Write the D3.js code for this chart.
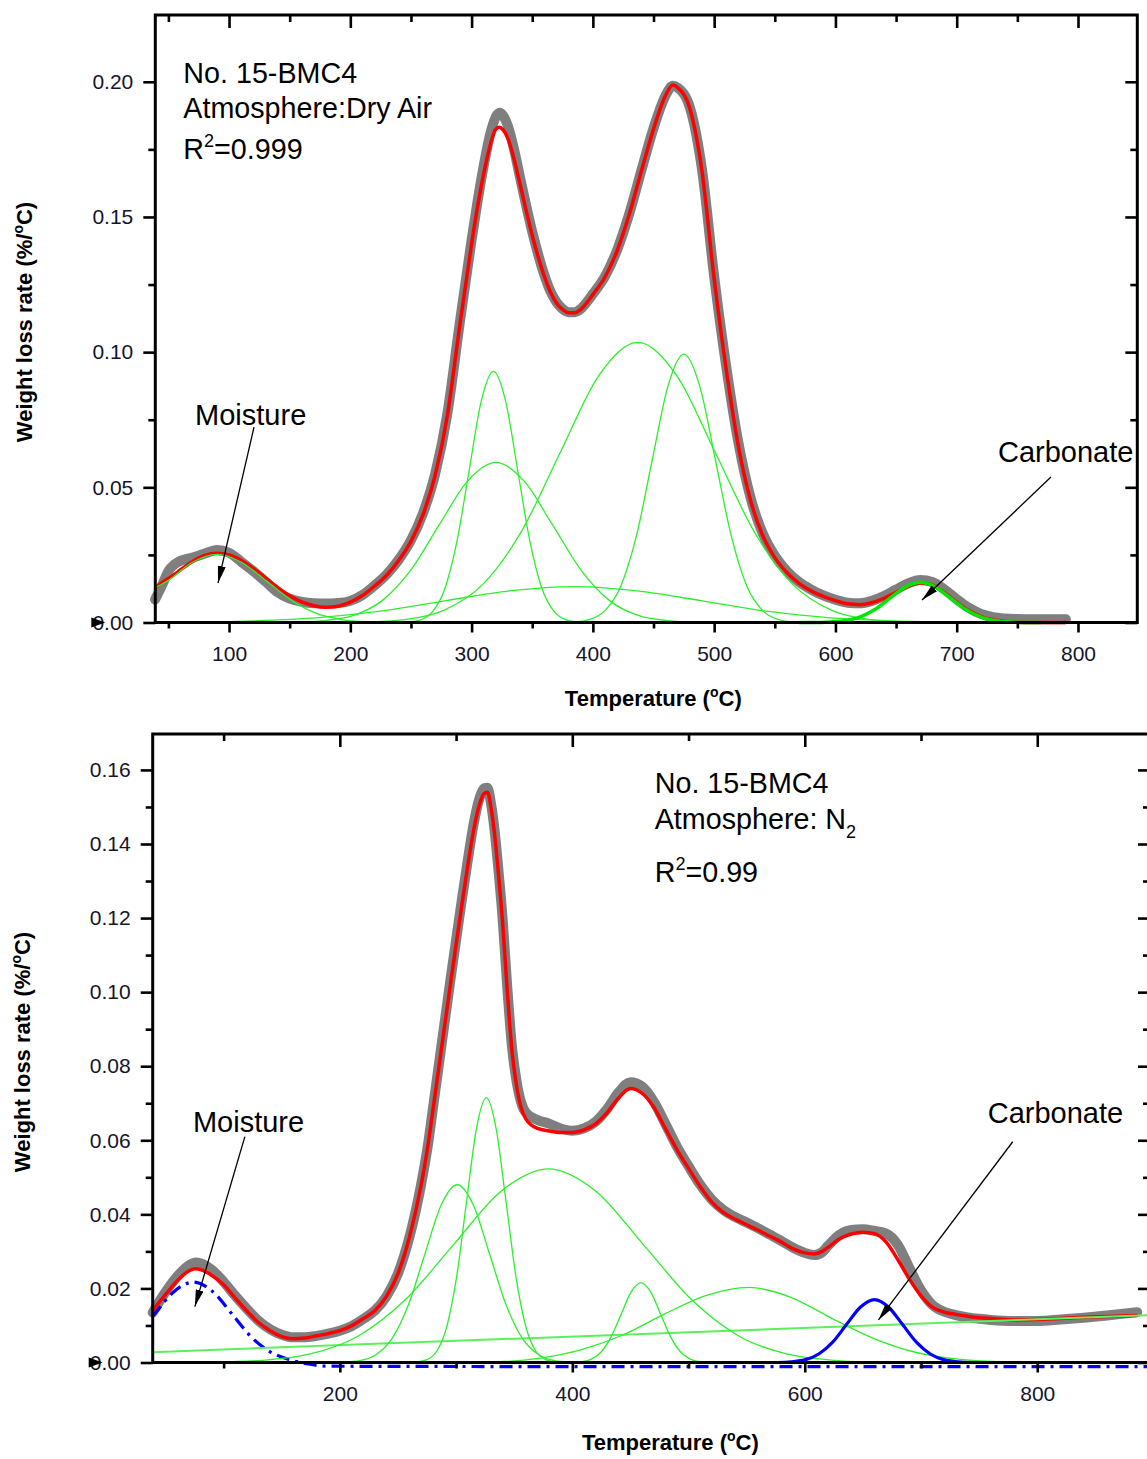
<!DOCTYPE html>
<html>
<head>
<meta charset="utf-8">
<script src="https://cdn.jsdelivr.net/npm/d3@7"></script>
<style>
  body { margin: 0; background: #fff; }
  text { font-family: "Liberation Sans", Arial, sans-serif; }
</style>
</head>
<body>
<svg id="chart" width="1147" height="1459"></svg>
<script>
// ---------- panel 1 : dry air ----------
const airTicksX = [100, 200, 300, 400, 500, 600, 700, 800]
const airMinorX = [50, 150, 250, 350, 450, 550, 650, 750]
const airTicksY = [0, 0.05, 0.1, 0.15, 0.2]
const airMinorY = [0.025, 0.075, 0.125, 0.175]

// measured DTG (grey) and fitted sum (red), [temperature, rate]
const airMeasured = [[39,0.0085],[45,0.0140],[50,0.0190],[55,0.0215],[60,0.0228],[70,0.0240],[80,0.0255],[90,0.0268],[100,0.0258],[110,0.0225],[120,0.0190],[130,0.0152],[140,0.0112],[150,0.0088],[160,0.0076],[170,0.0071],[180,0.0070],[190,0.0072],[200,0.0080],[210,0.0102],[220,0.0137],[230,0.0178],[240,0.0233],[250,0.0304],[260,0.0405],[270,0.0550],[280,0.0772],[290,0.1100],[300,0.1415],[305,0.1560],[310,0.1690],[315,0.1800],[320,0.1870],[323,0.1885],[326,0.1875],[330,0.1835],[335,0.1750],[340,0.1645],[350,0.1445],[360,0.1285],[365,0.1225],[370,0.1185],[375,0.1160],[380,0.1148],[385,0.1148],[390,0.1160],[395,0.1185],[400,0.1215],[410,0.1280],[420,0.1378],[430,0.1512],[440,0.1672],[450,0.1828],[460,0.1950],[466,0.1985],[470,0.1978],[480,0.1905],[490,0.1675],[500,0.1280],[510,0.0945],[520,0.0665],[530,0.0462],[540,0.0330],[550,0.0247],[560,0.0190],[570,0.0150],[580,0.0122],[590,0.0100],[600,0.0084],[610,0.0073],[620,0.0071],[630,0.0080],[640,0.0098],[650,0.0122],[660,0.0145],[670,0.0157],[680,0.0150],[690,0.0122],[700,0.0086],[710,0.0054],[720,0.0032],[730,0.0020],[740,0.0015],[750,0.0013],[760,0.0012],[770,0.0012],[780,0.0012],[790,0.0012]]
const airFit = [[39,0.0129],[45,0.0148],[50,0.0163],[55,0.0178],[60,0.0195],[70,0.0226],[80,0.0248],[90,0.0256],[100,0.0250],[110,0.0230],[120,0.0200],[130,0.0165],[140,0.0130],[150,0.0099],[160,0.0076],[170,0.0062],[180,0.0056],[190,0.0060],[200,0.0075],[210,0.0100],[220,0.0135],[230,0.0175],[240,0.0230],[250,0.0300],[260,0.0400],[270,0.0545],[280,0.0765],[290,0.1090],[300,0.1400],[305,0.1540],[310,0.1660],[315,0.1760],[320,0.1825],[323,0.1832],[326,0.1822],[330,0.1790],[335,0.1715],[340,0.1620],[350,0.1432],[360,0.1280],[365,0.1222],[370,0.1182],[375,0.1158],[380,0.1146],[385,0.1146],[390,0.1158],[395,0.1183],[400,0.1213],[410,0.1278],[420,0.1375],[430,0.1510],[440,0.1670],[450,0.1825],[460,0.1950],[466,0.1988],[470,0.1978],[480,0.1900],[490,0.1668],[500,0.1272],[510,0.0935],[520,0.0652],[530,0.0452],[540,0.0322],[550,0.0240],[560,0.0185],[570,0.0145],[580,0.0117],[590,0.0097],[600,0.0081],[610,0.0069],[620,0.0066],[630,0.0073],[640,0.0089],[650,0.0112],[660,0.0134],[670,0.0146],[680,0.0138],[690,0.0110],[700,0.0075],[710,0.0044],[720,0.0022],[730,0.0010],[740,0.0004],[750,0.0001],[760,0],[790,0]]

// deconvoluted peaks (green)
const airMoisture = [[39,0.0128],[49,0.0153],[69.5,0.0222],[90,0.0252],[110.5,0.0222],[131,0.0153],[151.5,0.0082],[172,0.0034],[192.5,0.0011],[213,0.0003],[233.5,0.0001],[254,0]]
const airPeak318 = [[238,0],[248,0.0002],[258,0.0010],[268,0.0041],[278,0.0126],[288,0.0302],[298,0.0563],[308,0.0820],[318,0.0929],[328,0.0820],[338,0.0563],[348,0.0302],[358,0.0126],[368,0.0041],[378,0.0010],[388,0.0002],[398,0]]
const airPeak320 = [[132,0],[155.5,0.0001],[179,0.0007],[202.5,0.0026],[226,0.0080],[249.5,0.0192],[273,0.0359],[296.5,0.0522],[320,0.0592],[343.5,0.0522],[367,0.0359],[390.5,0.0192],[414,0.0080],[437.5,0.0026],[461,0.0007],[484.5,0.0001],[508,0]]
const airPeak437 = [[181,0],[213,0.0002],[245,0.0011],[277,0.0045],[309,0.0140],[341,0.0336],[373,0.0628],[405,0.0914],[437,0.1036],[469,0.0914],[501,0.0628],[533,0.0336],[565,0.0140],[597,0.0045],[629,0.0011],[661,0.0002],[693,0]]
const airPeak475 = [[371,0],[384,0.0002],[397,0.0011],[410,0.0044],[423,0.0134],[436,0.0322],[449,0.0602],[462,0.0876],[475,0.0993],[488,0.0876],[501,0.0602],[514,0.0322],[527,0.0134],[540,0.0044],[553,0.0011],[566,0.0002],[579,0]]
const airPeakBroad = [[39,0.0001],[69,0.0001],[121.5,0.0006],[174,0.0018],[226.5,0.0043],[279,0.0081],[331.5,0.0117],[384,0.0133],[436.5,0.0117],[489,0.0081],[541.5,0.0043],[594,0.0018],[646.5,0.0006],[699,0.0001],[751.5,0]]
const airCarbonate = [[570,0],[582.5,0],[595,0.0002],[607.5,0.0007],[620,0.0020],[632.5,0.0048],[645,0.0090],[657.5,0.0131],[670,0.0149],[682.5,0.0131],[695,0.0090],[707.5,0.0048],[720,0.0020],[732.5,0.0007],[745,0.0002],[757.5,0],[770,0]]

// ---------- panel 2 : nitrogen ----------
const n2TicksX = [200, 400, 600, 800]
const n2MinorX = [100, 300, 500, 700]
const n2TicksY = [0, 0.02, 0.04, 0.06, 0.08, 0.1, 0.12, 0.14, 0.16]
const n2MinorY = [0.01, 0.03, 0.05, 0.07, 0.09, 0.11, 0.13, 0.15]

const n2Measured = [[39,0.0135],[50,0.0190],[60,0.0232],[70,0.0262],[76,0.0270],[80,0.0268],[90,0.0250],[100,0.0218],[110,0.0180],[120,0.0145],[130,0.0113],[140,0.0090],[150,0.0075],[160,0.0068],[170,0.0068],[180,0.0072],[190,0.0078],[200,0.0086],[210,0.0098],[220,0.0117],[230,0.0140],[240,0.0178],[250,0.0240],[260,0.0340],[270,0.0482],[276,0.0592],[280,0.0684],[285,0.0800],[290,0.0915],[295,0.1030],[300,0.1140],[305,0.1250],[310,0.1355],[315,0.1452],[320,0.1522],[324,0.1550],[327,0.1552],[330,0.1510],[333,0.1440],[336,0.1345],[340,0.1200],[344,0.1015],[348,0.0855],[352,0.0760],[356,0.0702],[360,0.0675],[370,0.0655],[380,0.0645],[390,0.0632],[400,0.0626],[410,0.0632],[420,0.0650],[430,0.0685],[440,0.0730],[450,0.0757],[460,0.0745],[470,0.0705],[480,0.0645],[490,0.0583],[500,0.0530],[510,0.0480],[520,0.0440],[530,0.0412],[540,0.0393],[550,0.0378],[560,0.0362],[570,0.0345],[580,0.0328],[590,0.0310],[600,0.0296],[608,0.0290],[615,0.0298],[620,0.0315],[630,0.0345],[640,0.0358],[650,0.0360],[660,0.0355],[670,0.0348],[680,0.0318],[690,0.0255],[700,0.0195],[710,0.0155],[720,0.0137],[730,0.0128],[740,0.0122],[750,0.0118],[760,0.0115],[780,0.0112],[800,0.0112],[820,0.0116],[840,0.0121],[860,0.0127],[886,0.0136]]
const n2Fit = [[39,0.0140],[50,0.0183],[60,0.0220],[70,0.0247],[76,0.0253],[80,0.0251],[90,0.0235],[100,0.0210],[110,0.0174],[120,0.0139],[130,0.0108],[140,0.0086],[150,0.0070],[160,0.0064],[170,0.0066],[180,0.0072],[190,0.0078],[200,0.0086],[210,0.0099],[220,0.0118],[230,0.0140],[240,0.0178],[250,0.0240],[260,0.0340],[270,0.0480],[276,0.0590],[280,0.0680],[285,0.0792],[290,0.0905],[295,0.1018],[300,0.1128],[305,0.1236],[310,0.1340],[315,0.1435],[320,0.1505],[324,0.1536],[327,0.1540],[330,0.1500],[333,0.1430],[336,0.1335],[340,0.1190],[344,0.1005],[348,0.0845],[352,0.0748],[356,0.0688],[360,0.0658],[370,0.0632],[380,0.0625],[390,0.0621],[400,0.0621],[410,0.0628],[420,0.0644],[430,0.0675],[440,0.0715],[450,0.0740],[460,0.0727],[470,0.0690],[480,0.0632],[490,0.0575],[500,0.0524],[510,0.0475],[520,0.0433],[530,0.0405],[540,0.0387],[550,0.0372],[560,0.0357],[570,0.0341],[580,0.0325],[590,0.0307],[600,0.0296],[608,0.0293],[615,0.0300],[620,0.0311],[630,0.0334],[640,0.0347],[650,0.0352],[660,0.0348],[670,0.0325],[680,0.0278],[690,0.0225],[700,0.0180],[710,0.0149],[720,0.0136],[730,0.0130],[740,0.0125],[750,0.0121],[760,0.0119],[780,0.0115],[800,0.0116],[820,0.0119],[840,0.0122],[860,0.0124],[886,0.0127]]

// blue moisture peak: its tail runs just under the zero line
const n2Moisture = [[39,0.0124],[41,0.0132],[57.5,0.0192],[74,0.0217],[90.5,0.0192],[107,0.0132],[123.5,0.0070],[140,0.0029],[156.5,0.0008],[173,-0.0004],[189.5,-0.0010],[400,-0.0011],[897,-0.0011]]
const n2Peak301 = [[189,0],[203,0.0001],[217,0.0005],[231,0.0021],[245,0.0065],[259,0.0156],[273,0.0291],[287,0.0424],[301,0.0480],[315,0.0424],[329,0.0291],[343,0.0156],[357,0.0065],[371,0.0021],[385,0.0005],[399,0.0001],[413,0]]
const n2Peak326 = [[258,0],[266.5,0.0002],[275,0.0008],[283.5,0.0031],[292,0.0097],[300.5,0.0232],[309,0.0434],[317.5,0.0631],[326,0.0715],[334.5,0.0631],[343,0.0434],[351.5,0.0232],[360,0.0097],[368.5,0.0031],[377,0.0008],[385.5,0.0002],[394,0]]
const n2Peak380 = [[51.5,0],[92.5,0.0001],[133.5,0.0006],[174.5,0.0023],[215.5,0.0071],[256.5,0.0170],[297.5,0.0317],[338.5,0.0462],[379.5,0.0523],[420.5,0.0462],[461.5,0.0317],[502.5,0.0170],[543.5,0.0071],[584.5,0.0023],[625.5,0.0006],[666.5,0.0001],[707.5,0]]
const n2Peak459 = [[391,0],[399.5,0],[408,0.0002],[416.5,0.0009],[425,0.0029],[433.5,0.0070],[442,0.0130],[450.5,0.0190],[459,0.0215],[467.5,0.0190],[476,0.0130],[484.5,0.0070],[493,0.0029],[501.5,0.0009],[510,0.0002],[518.5,0],[527,0]]
const n2Peak552 = [[300,0],[336,0.0002],[372,0.0012],[408,0.0035],[444,0.0075],[480,0.0132],[516,0.0182],[552,0.0203],[588,0.0176],[624,0.0118],[660,0.0064],[696,0.0027],[732,0.0009],[768,0.0002],[804,0]]
const n2Baseline = [[39,0.0028],[897,0.0128]]
const n2Carbonate = [[576,0],[588,0.0002],[600,0.0007],[612,0.0023],[624,0.0055],[636,0.0103],[648,0.0150],[660,0.0170],[672,0.0150],[684,0.0103],[696,0.0055],[708,0.0023],[720,0.0007],[732,0.0002],[744,0]]

const GREEN = '#2bef2b'
const FONT = '"Liberation Sans", Arial, sans-serif'
const svg = d3.select('#chart')

svg.append('defs').append('marker')
  .attr('id', 'arrow')
  .attr('markerUnits', 'userSpaceOnUse')
  .attr('markerWidth', 18).attr('markerHeight', 10)
  .attr('refX', 17).attr('refY', 4)
  .attr('orient', 'auto')
  .append('path').attr('d', 'M0,0 L17,4 L0,8 Z').attr('fill', '#000')

function drawPanel(p) {
  const g = svg.append('g')
  const x = d3.scaleLinear().domain(p.xDomain).range([p.left, p.right])
  const y = d3.scaleLinear().domain(p.yDomain).range([p.bottom, p.top])
  const line = d3.line()
    .x((d) => x(d[0]))
    .y((d) => y(d[1]))
    .curve(d3.curveMonotoneX)

  const curves = g.append('g').attr('fill', 'none')
  p.series.forEach((s) => {
    curves.append('path')
      .attr('d', line(s.data))
      .attr('stroke', s.color)
      .attr('stroke-width', s.width)
      .attr('stroke-dasharray', s.dash || null)
      .attr('stroke-linecap', s.cap || 'butt')
      .attr('stroke-linejoin', 'round')
  })

  // axes: ticks only, frame drawn separately
  const axes = [
    [d3.axisBottom(x).tickValues(p.xMajor).tickSize(10).tickPadding(14).tickFormat(d3.format('d')), p.bottom],
    [d3.axisBottom(x).tickValues(p.xMinor).tickSize(6).tickFormat(''), p.bottom],
    [d3.axisTop(x).tickValues(p.xMajor).tickSize(-13).tickFormat(''), p.top],
    [d3.axisTop(x).tickValues(p.xMinor).tickSize(-7).tickFormat(''), p.top],
  ]
  axes.forEach(([ax, pos]) => {
    g.append('g').attr('transform', `translate(0,${pos})`).call(ax)
  })
  const yAxes = [
    [d3.axisLeft(y).tickValues(p.yMajor).tickSize(12).tickPadding(10).tickFormat(d3.format('.2f')), p.left],
    [d3.axisLeft(y).tickValues(p.yMinor).tickSize(7).tickFormat(''), p.left],
    [d3.axisRight(y).tickValues(p.yMajor).tickSize(-12).tickFormat(''), p.right],
    [d3.axisRight(y).tickValues(p.yMinor).tickSize(-7).tickFormat(''), p.right],
  ]
  yAxes.forEach(([ax, pos]) => {
    g.append('g').attr('transform', `translate(${pos},0)`).call(ax)
  })
  g.selectAll('.domain').remove()
  g.selectAll('.tick line').attr('stroke', '#000').attr('stroke-width', 2.6)
  g.selectAll('.tick text')
    .attr('font-size', 21)
    .attr('font-family', FONT)
    .attr('fill', '#14142a')

  g.append('rect')
    .attr('x', p.left).attr('y', p.top)
    .attr('width', p.right - p.left).attr('height', p.bottom - p.top)
    .attr('fill', 'none').attr('stroke', '#000').attr('stroke-width', 3)

  // stray arrow head sitting on the 0.00 label
  g.append('path')
    .attr('d', `M${p.left - 64},${y(0) - 5} L${p.left - 50},${y(0)} L${p.left - 64},${y(0) + 5} Z`)
    .attr('fill', '#000')

  // axis titles
  const xt = g.append('text')
    .attr('x', (p.left + p.right) / 2 + p.xTitleShift).attr('y', p.xTitleY)
    .attr('text-anchor', 'middle').attr('font-size', 22).attr('font-weight', 'bold')
  xt.append('tspan').text('Temperature (')
  xt.append('tspan').attr('font-size', 14).attr('dy', -9).text('o')
  xt.append('tspan').attr('dy', 9).text('C)')

  const yt = g.append('text')
    .attr('transform', `translate(${p.yTitleX},${p.yTitleY}) rotate(-90)`)
    .attr('text-anchor', 'middle').attr('font-size', 22).attr('font-weight', 'bold')
  yt.append('tspan').text('Weight loss rate (%/')
  yt.append('tspan').attr('font-size', 14).attr('dy', -9).text('o')
  yt.append('tspan').attr('dy', 9).text('C)')

  // sample info block
  const info = g.append('g').attr('font-size', 28.7).attr('fill', '#000')
  info.append('text').attr('x', x(p.info.t)).attr('y', y(p.info.v[0])).text('No. 15-BMC4')
  const atm = info.append('text').attr('x', x(p.info.t)).attr('y', y(p.info.v[1]))
  atm.append('tspan').text(p.info.atm)
  if (p.info.sub) atm.append('tspan').attr('font-size', 18).attr('dy', 9).text(p.info.sub)
  const r2 = info.append('text').attr('x', x(p.info.t)).attr('y', y(p.info.v[2]))
  r2.append('tspan').text('R')
  r2.append('tspan').attr('font-size', 18).attr('dy', -12).text('2')
  r2.append('tspan').attr('dy', 12).text(p.info.r2)

  // labelled arrows
  p.notes.forEach((n) => {
    g.append('text').attr('x', x(n.t)).attr('y', y(n.v))
      .attr('font-size', 29).text(n.label)
    g.append('line')
      .attr('x1', x(n.from[0])).attr('y1', y(n.from[1]))
      .attr('x2', x(n.to[0])).attr('y2', y(n.to[1]))
      .attr('stroke', '#000').attr('stroke-width', 1.3)
      .attr('marker-end', 'url(#arrow)')
  })
}

drawPanel({
  left: 155.3, right: 1137.3, top: 15, bottom: 622.5,
  xDomain: [39.2, 848.9], yDomain: [0, 0.2247],
  xMajor: airTicksX, xMinor: airMinorX, yMajor: airTicksY, yMinor: airMinorY,
  xTitleY: 706, xTitleShift: 7, yTitleX: 32, yTitleY: 322,
  series: [
    { data: airMeasured, color: '#7f7f7f', width: 10, cap: 'round' },
    { data: airFit, color: '#ff0000', width: 3.5 },
    { data: airMoisture, color: GREEN, width: 1.3 },
    { data: airPeakBroad, color: GREEN, width: 1.3 },
    { data: airPeak320, color: GREEN, width: 1.3 },
    { data: airPeak318, color: GREEN, width: 1.3 },
    { data: airPeak437, color: GREEN, width: 1.3 },
    { data: airPeak475, color: GREEN, width: 1.3 },
    { data: airCarbonate, color: '#00e600', width: 3.5 },
  ],
  info: { t: 62.3, v: [0.1995, 0.1867, 0.1715], atm: 'Atmosphere:Dry Air', r2: '=0.999' },
  notes: [
    { label: 'Moisture', t: 72, v: 0.0731, from: [120.6, 0.0723], to: [90.9, 0.0146] },
    { label: 'Carbonate', t: 734, v: 0.0594, from: [777.7, 0.0538], to: [671.4, 0.0083] },
  ],
})

drawPanel({
  left: 152.7, right: 1150, top: 734, bottom: 1362.5,
  xDomain: [39, 897], yDomain: [0, 0.1697],
  xMajor: n2TicksX, xMinor: n2MinorX, yMajor: n2TicksY, yMinor: n2MinorY,
  xTitleY: 1450, xTitleShift: 19, yTitleX: 30, yTitleY: 1052,
  series: [
    { data: n2Measured, color: '#7f7f7f', width: 10, cap: 'round' },
    { data: n2Fit, color: '#ff0000', width: 3.5 },
    { data: n2Moisture, color: '#0000ff', width: 3.2, dash: '13,6,3,6' },
    { data: n2Baseline, color: '#5cf05c', width: 2 },
    { data: n2Peak301, color: GREEN, width: 1.3 },
    { data: n2Peak326, color: GREEN, width: 1.3 },
    { data: n2Peak380, color: GREEN, width: 1.3 },
    { data: n2Peak459, color: GREEN, width: 1.3 },
    { data: n2Peak552, color: GREEN, width: 1.3 },
    { data: n2Carbonate, color: '#0000ff', width: 3.2 },
  ],
  info: { t: 470.9, v: [0.1539, 0.144, 0.1298], atm: 'Atmosphere: N', sub: '2', r2: '=0.99' },
  notes: [
    { label: 'Moisture', t: 73.6, v: 0.0623, from: [118.3, 0.061], to: [75.3, 0.0151] },
    { label: 'Carbonate', t: 757.4, v: 0.0646, from: [778.9, 0.0596], to: [663.4, 0.0115] },
  ],
})
</script>
</body>
</html>
